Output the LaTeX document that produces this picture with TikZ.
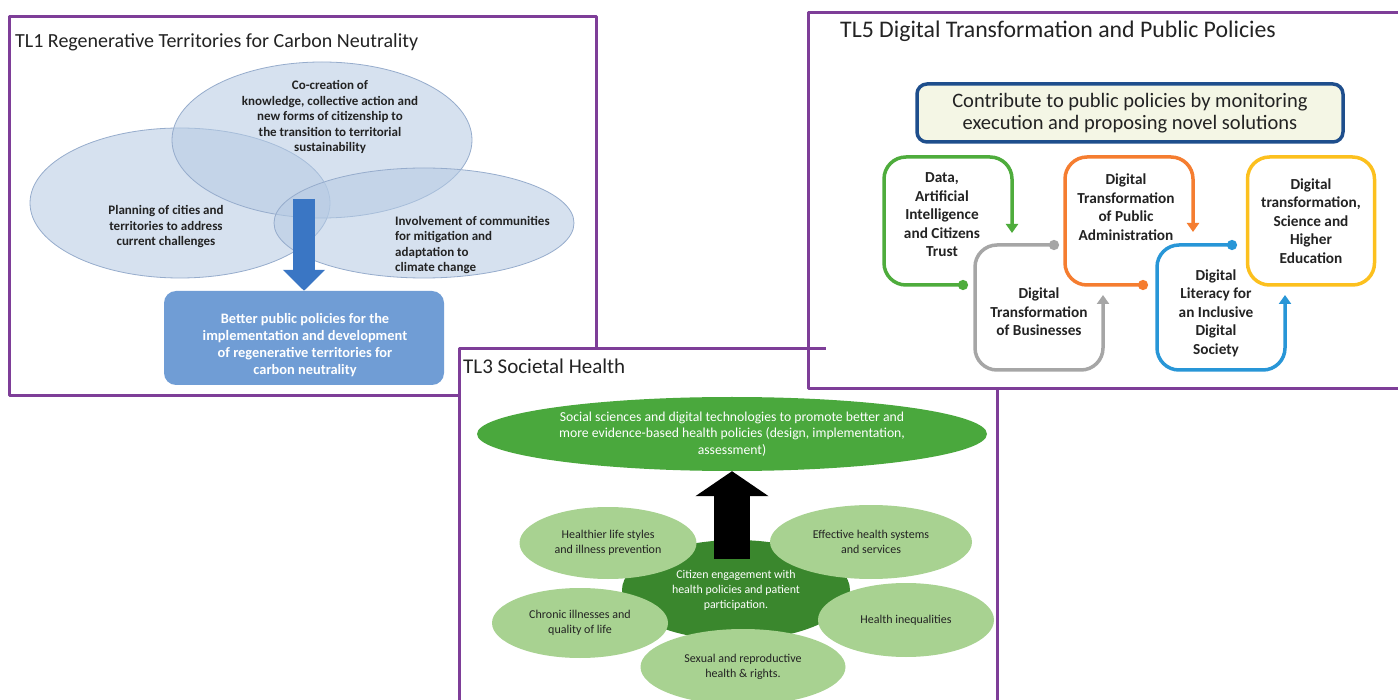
\documentclass[tikz,border=0pt]{standalone}
\usepackage{fontspec}
\setmainfont{Carlito}
\usetikzlibrary{arrows.meta,positioning,shapes.geometric}

\definecolor{panelpurple}{RGB}{126,62,152}
\definecolor{vennfill}{RGB}{182,203,228}
\definecolor{vennedge}{RGB}{150,172,204}
\definecolor{arrowblue}{RGB}{58,118,196}
\definecolor{boxblue}{RGB}{112,157,213}
\definecolor{contribedge}{RGB}{30,78,140}
\definecolor{contribfill}{RGB}{244,246,229}
\definecolor{loopgreen}{RGB}{78,172,60}
\definecolor{loopgray}{RGB}{166,166,166}
\definecolor{looporange}{RGB}{245,125,48}
\definecolor{loopblue}{RGB}{40,150,215}
\definecolor{loopyellow}{RGB}{252,192,30}
\definecolor{goalgreen}{RGB}{74,168,61}
\definecolor{coregreen}{RGB}{58,135,45}
\definecolor{leafgreen}{RGB}{168,210,145}
\definecolor{inkgray}{RGB}{35,35,35}

\begin{document}
\begin{tikzpicture}[
    x=1pt, y=-1pt, line join=round, >=Latex,
    font=\fontsize{11}{15}\selectfont, text=inkgray,
    panel/.style={draw=panelpurple, line width=3pt, fill=white},
    paneltitle/.style={anchor=west, inner sep=0pt},
    venn/.style={ellipse, inner sep=0pt, draw=vennedge, line width=0.8pt,
      fill=vennfill, fill opacity=0.56},
    venntext/.style={align=center, inner sep=0pt,
      font=\fontsize{13}{15.5}\selectfont\bfseries},
    loopline/.style={line width=3.5pt, rounded corners=22pt,
      {Circle[length=10pt]}-{Triangle[length=9pt,width=12pt]}},
    looptext/.style={align=center, inner sep=0pt,
      font=\fontsize{15.3}{18.5}\selectfont\bfseries},
    leaf/.style={ellipse, inner sep=0pt, fill=leafgreen, align=center,
      font=\fontsize{12}{15}\selectfont}
  ]

  \clip (0,0) rectangle (1398,700);

  % ------------------ TL1 panel ------------------
  \draw[panel] (9,17) rectangle (596,396);
  \node[paneltitle, font=\fontsize{20}{24}\selectfont] (tlone) at (15,42)
  {TL1 Regenerative Territories for Carbon Neutrality};

  % three overlapping themes
  \node[venn, minimum width=300pt, minimum height=150pt] (planning) at (180,203) {};
  \node[venn, minimum width=300pt, minimum height=156pt] (cocreation) at (322,140) {};
  \node[venn, minimum width=300pt, minimum height=110pt] (involvement) at (424,223) {};

  \node[venntext] (cocreationtext) at (330,117)
  {Co-creation of\\knowledge, collective action and\\new forms of citizenship to\\the
    transition to territorial\\sustainability};
  \node[venntext] (planningtext) at (166,227)
  {Planning of cities and\\territories to address\\current challenges};
  \node[venntext, align=left, anchor=west] (involvementtext) at (395,245)
  {Involvement of communities\\for mitigation and\\adaptation to\\climate change};

  % outcome box and the arrow into it
  \node[fill=boxblue, rounded corners=12pt, minimum width=280pt,
    minimum height=94pt] (better) at (304,338) {};
  \node[text=white, align=center, inner sep=0pt,
    font=\fontsize{14.4}{17}\selectfont\bfseries] (bettertext) at (305,345)
  {Better public policies for the\\implementation and development\\of regenerative
    territories for\\carbon neutrality};

  \coordinate[above=92pt of better.north] (dropstart);
  \draw[arrowblue, line width=22pt, -{Triangle[length=21pt,width=41pt]}]
  (dropstart) -- (better.north);

  % ------------------ TL3 panel ------------------
  \draw[panel] (459,349) rectangle (997,720);
  \node[paneltitle, font=\fontsize{21}{24}\selectfont] (tlthree) at (463,366)
  {TL3 Societal Health};

  \node[ellipse, fill=goalgreen, minimum width=510pt, minimum height=74pt,
    inner sep=0pt] (goal) at (732,434) {};
  \node[text=white, align=center, inner sep=0pt,
    font=\fontsize{13.7}{16.5}\selectfont] (goaltext) at (goal)
  {Social sciences and digital technologies to promote better and\\more
    evidence-based health policies (design, implementation,\\assessment)};

  \node[ellipse, fill=coregreen, minimum width=228pt, minimum height=100pt,
    inner sep=0pt, text=white, align=center, font=\fontsize{11.9}{15}\selectfont]
  (core) at (736,590)
  {Citizen engagement with\\health policies and patient\\participation.};

  \coordinate[below=88pt of goal.south] (liftbase);
  \draw[black, line width=36pt, -{Triangle[length=25pt,width=72pt]}]
  (liftbase) -- (goal.south);

  % surrounding themes
  \node[leaf, minimum width=177pt, minimum height=72pt] (lifestyle) at (608,543)
  {Healthier life styles\\and illness prevention};
  \node[leaf, minimum width=202pt, minimum height=74pt] (systems) at (871,542)
  {Effective health systems\\and services};
  \node[leaf, minimum width=176pt, minimum height=70pt] (chronic) at (580,623)
  {Chronic illnesses and\\quality of life};
  \node[leaf, minimum width=176pt, minimum height=74pt] (inequal) at (906,620)
  {Health inequalities};
  \node[leaf, minimum width=205pt, minimum height=76pt] (sexual) at (743,667)
  {Sexual and reproductive\\health \& rights.};

  % ------------------ TL5 panel ------------------
  \draw[panel] (808,13) rectangle (1410,389);
  \node[paneltitle, font=\fontsize{23.8}{27}\selectfont] (tlfive) at (840,31)
  {TL5 Digital Transformation and Public Policies};

  \node[draw=contribedge, line width=3.5pt, fill=contribfill, rounded corners=10pt,
    minimum width=426pt, minimum height=58pt, inner sep=0pt, align=center,
    font=\fontsize{20.5}{21.5}\selectfont] (contribute) at (1130,113)
  {Contribute to public policies by monitoring\\execution and proposing novel solutions};

  % chained loops
  \draw[loopline, loopgreen] (968,285) -- (884,285) -- (884,157) -- (1012,157) -- (1012,233);
  \draw[loopline, loopgray] (1059,245) -- (975,245) -- (975,370) -- (1103,370) -- (1103,295);
  \draw[loopline, looporange] (1148,285) -- (1065,285) -- (1065,157) -- (1193,157) -- (1193,232);
  \draw[loopline, loopblue] (1237,245) -- (1157,245) -- (1157,370) -- (1285,370) -- (1285,295);

  \node[looptext] (datatext) at (942,215)
  {Data,\\Artificial\\Intelligence\\and Citizens\\Trust};
  \node[looptext] (businesstext) at (1039,312)
  {Digital\\Transformation\\of Businesses};
  \node[looptext] (admintext) at (1126,207)
  {Digital\\Transformation\\of Public\\Administration};
  \node[looptext] (literacytext) at (1216,313)
  {Digital\\Literacy for\\an Inclusive\\Digital\\Society};
  \node[looptext, draw=loopyellow, line width=3.5pt, rounded corners=22pt,
    minimum width=127pt, minimum height=128pt] (science) at (1311,221)
  {Digital\\transformation,\\Science and\\Higher\\Education};

  % TL3 top edge showing past the TL5 frame
  \draw[panelpurple, line width=3pt] (808,349) -- (826,349);

\end{tikzpicture}
\end{document}
